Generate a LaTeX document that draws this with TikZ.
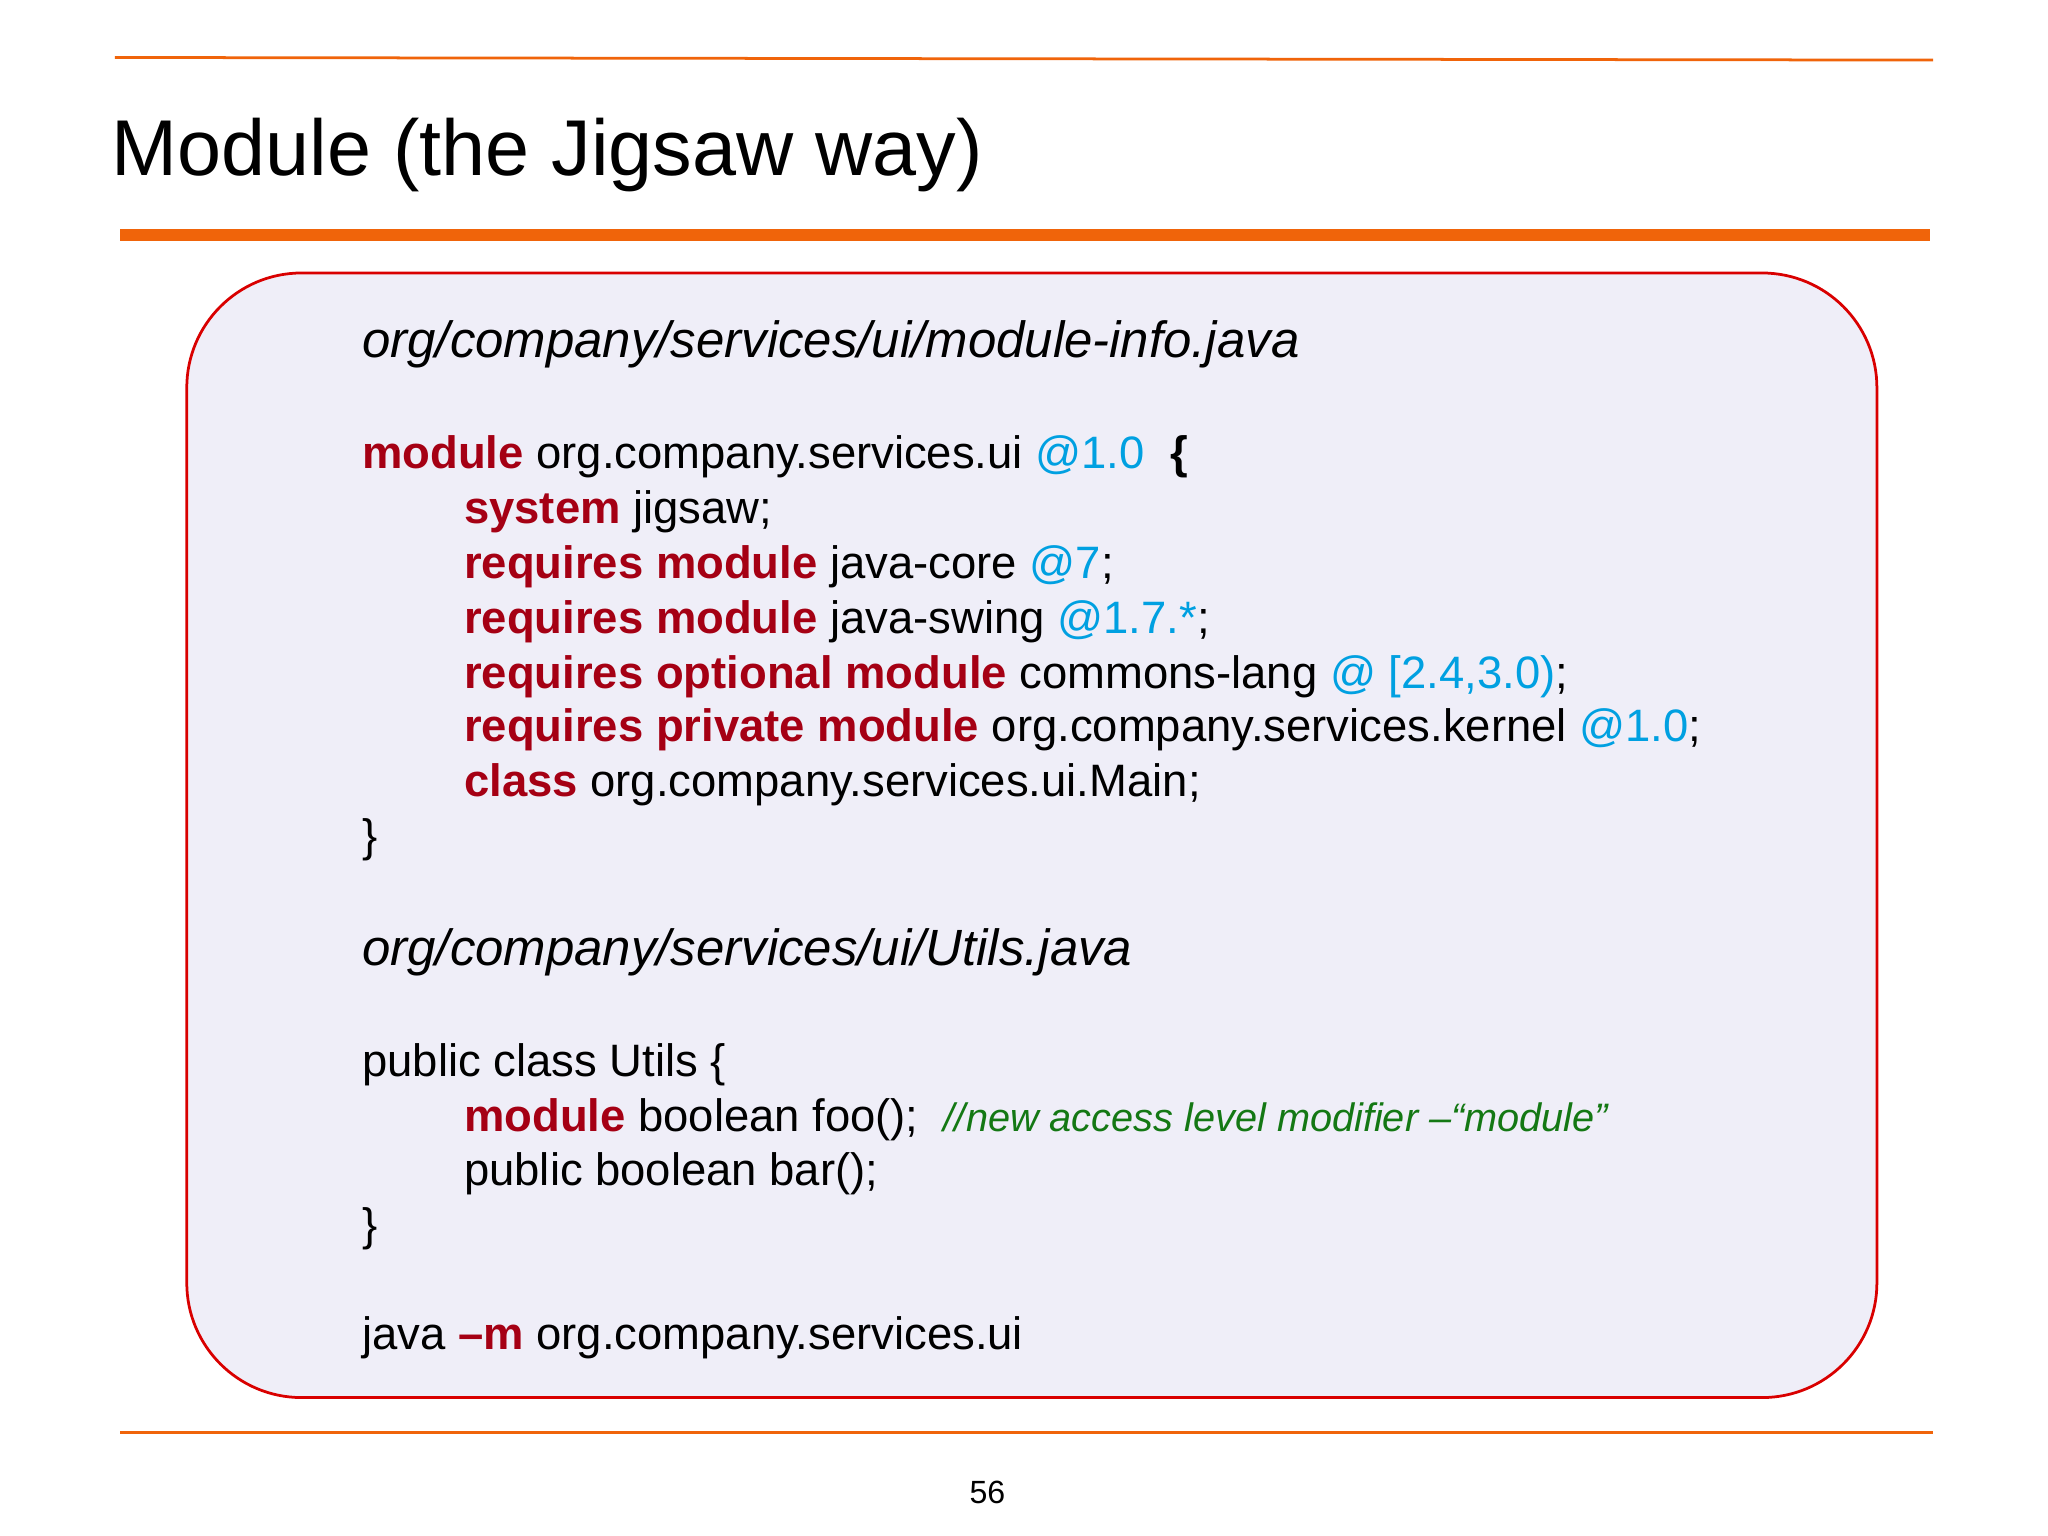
\documentclass[tikz,border=0pt]{standalone}
\usepackage{fontspec}
\setmainfont{Liberation Sans}
\definecolor{kw}{RGB}{165,0,20}
\definecolor{ver}{RGB}{0,160,225}
\definecolor{cmt}{RGB}{20,120,20}
\definecolor{org}{RGB}{240,100,10}
\definecolor{boxfill}{RGB}{239,238,248}
\begin{document}
\begin{tikzpicture}[x=0.02cm,y=-0.02cm,
  code/.style={anchor=west,inner sep=0pt,font=\fontsize{19.8}{22}\selectfont},
  hdr/.style={anchor=west,inner sep=0pt,font=\fontsize{22.2}{26}\selectfont\itshape}]
\newcommand{\kw}[1]{\textcolor{kw}{\textbf{#1}}}
\newcommand{\vr}[1]{\textcolor{ver}{#1}}
\fill[white] (0,0) rectangle (1568,1176);
\useasboundingbox (0,0) rectangle (1568,1176);
\draw[org,line width=1.2pt] (88,44) -- (1480,46);
\draw[org,line width=5pt] (92,180) -- (1478,180);
\draw[org,line width=1.2pt] (92,1097) -- (1480,1097);
\node[anchor=west,inner sep=0pt,font=\fontsize{34.5}{40}\selectfont] (title) at (85,119) {Module (the Jigsaw way)};
\draw[red!85!black,line width=1.2pt,fill=boxfill,rounded corners=50] (143,209) rectangle (1437,1070);
\node[hdr] (f1) at (277,264) {org/company/services/ui/module-info.java};
\node[code] (l1) at (277,350) {\kw{module} org.company.services.ui \vr{@1.0}\ \ \textbf{\{}};
\node[code] (l2) at (355,392) {\kw{system} jigsaw;};
\node[code] (l3) at (355,434) {\kw{requires module} java-core \vr{@7};};
\node[code] (l4) at (355,476) {\kw{requires module} java-swing \vr{@1.7.*};};
\node[code] (l5) at (355,518) {\kw{requires optional module} commons-lang \vr{@ [2.4,3.0)};};
\node[code] (l6) at (355,559) {\kw{requires private module} org.company.services.kernel \vr{@1.0};};
\node[code] (l7) at (355,601) {\kw{class} org.company.services.ui.Main;};
\node[code] (l8) at (277,643) {\}};
\node[hdr] (f2) at (277,729) {org/company/services/ui/Utils.java};
\node[code] (u1) at (277,815) {public class Utils \{};
\node[code] (u2) at (355,857) {\kw{module} boolean foo();\ \ \textcolor{cmt}{\fontsize{17.3}{20}\selectfont\itshape //new access level modifier –“module”}};
\node[code] (u3) at (355,899) {public boolean bar();};
\node[code] (u4) at (277,941) {\}};
\node[code] (j) at (277,1024) {java \kw{–m} org.company.services.ui};
\node[font=\fontsize{14}{16}\selectfont] (pg) at (756,1143) {56};
\end{tikzpicture}
\end{document}
